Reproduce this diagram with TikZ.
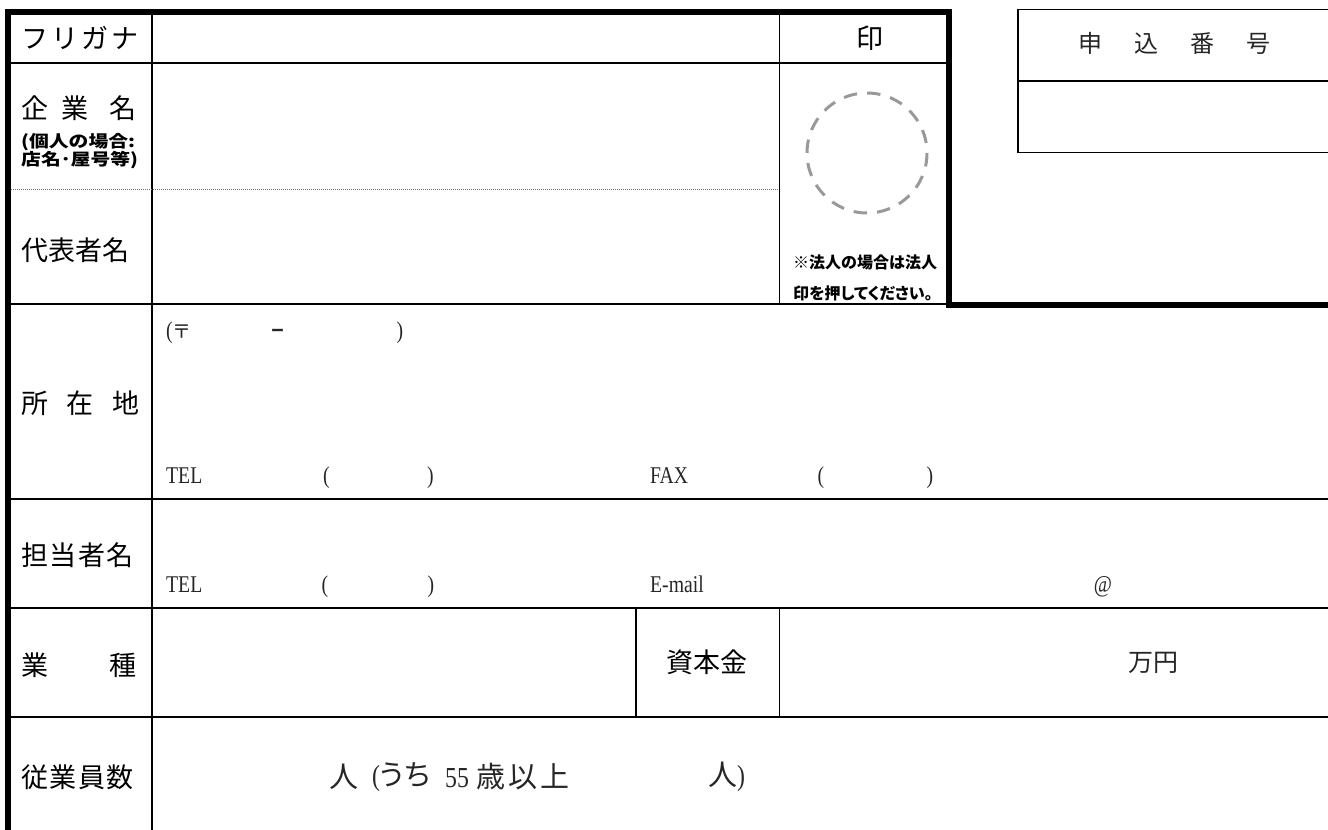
\documentclass[tikz,border=0pt]{standalone}
\usepackage{fontspec}
\newfontfamily\gothic{Noto Sans CJK JP}
\newfontfamily\gothicw{Noto Sans CJK JP}[FakeStretch=1.2]
\newfontfamily\gothicp{Noto Sans CJK JP}[RawFeature=+palt]
\newfontfamily\serifl{Liberation Serif}[FakeStretch=0.82]
\begin{document}
\begin{tikzpicture}[x=1pt,y=-1pt,
  bordline/.style={line width=6pt, line join=miter, line cap=butt},
  thinline/.style={line width=1.8pt},
  boxline/.style={line width=1.8pt, line join=miter},
  dotline/.style={line width=1pt, black!55, dash pattern=on 1pt off 1pt},
  stampc/.style={line width=3pt, black!40, dash pattern=on 13.5pt off 10.06pt},
  lbl/.style={anchor=west, inner sep=0pt, font=\gothic\fontsize{27}{30}\selectfont},
  lblc/.style={inner sep=0pt, font=\gothic\fontsize{27}{30}\selectfont},
  noteb/.style={inner sep=0pt, font=\gothic\bfseries\fontsize{16}{18}\selectfont},
  notep/.style={inner sep=0pt, anchor=west, font=\gothicp\bfseries\fontsize{16}{18}\selectfont},
  small/.style={inner sep=0pt, anchor=west, align=left, font=\gothicw\bfseries\fontsize{16.5}{18}\selectfont},
  minc/.style={inner sep=0pt, text=black!85, font=\gothic\fontsize{25}{28}\selectfont},
  minl/.style={inner sep=0pt, text=black!85, font=\gothicp\fontsize{29}{32}\selectfont},
  latn/.style={inner sep=0pt, text=black!85, font=\serifl\fontsize{24}{27}\selectfont}
]
\useasboundingbox (0,0) rectangle (1328,830);

% thick outer border
\draw[bordline] (8,840) -- (8,12) -- (949,12) -- (949,304.5) -- (1340,304.5);

% thin rules
\draw[thinline] (8,63) -- (949,63);
\draw[thinline] (8,304) -- (949,304);
\draw[thinline] (8,499) -- (1340,499);
\draw[thinline] (8,608) -- (1340,608);
\draw[thinline] (8,717) -- (1340,717);
\draw[thinline] (152,12) -- (152,840);
\draw[thinline] (779.5,12) -- (779.5,304);
\draw[thinline] (636,608) -- (636,717);
\draw[thinline] (779.5,608) -- (779.5,717);
\draw[dotline] (11,189) -- (779,189);

% application number box
\draw[boxline] (1340,9.5) -- (1018,9.5) -- (1018,152.5) -- (1340,152.5);
\draw[boxline] (1018,81) -- (1340,81);

% stamp circle
\draw[stampc] (867,153) circle (60);

% left labels
\node[lbl] (furigana) at (21,38) {フ\hspace{3pt}リ\hspace{3pt}ガ\hspace{3pt}ナ};
\node[lbl] (kigyo) at (21,108) {企\hspace{13pt}業\hspace{21pt}名};
\node[small] (kojin) at (21,151) {(個人の場合:\\店名･屋号等)};
\node[lbl] (daihyo) at (21,250) {代表者名};
\node[lbl] (shozai) at (21,403) {所\hspace{18pt}在\hspace{19pt}地};
\node[lbl] (tanto) at (21,555) {担\hspace{1.5pt}当\hspace{1.5pt}者\hspace{1.5pt}名};
\node[lbl] (gyoshu) at (21,665) {業\hspace{61pt}種};
\node[lbl] (jugyo) at (21,777) {従\hspace{1.5pt}業\hspace{1.5pt}員\hspace{1.5pt}数};

% stamp column
\node[lblc] (in) at (870,38) {印};
\node[noteb] (note1) at (865,262) {※法人の場合は法人};
\node[notep] (note2) at (793,293) {印を押してください。};

% application number
\node[minc, font=\gothic\fontsize{24}{28}\selectfont] (moshikomi) at (1174.5,43)
  {申\hspace{32pt}込\hspace{32pt}番\hspace{32pt}号};

% address row
\node[latn, anchor=west] (yubin) at (166,333) {({\gothic\fontsize{19}{21}\selectfont 〒}};
\node[latn, anchor=base, font=\gothic\bfseries\fontsize{13}{15}\selectfont] (hyphen) at (277.5,335.5) {ー};
\node[latn] (yubinr) at (400,333) {)};
\node[latn, anchor=base west] (tel1) at (166,483) {TEL};
\node[latn, anchor=base] (tel1l) at (326.5,483) {(};
\node[latn, anchor=base] (tel1r) at (430.5,483) {)};
\node[latn, anchor=base west] (fax) at (650,483) {FAX};
\node[latn, anchor=base] (faxl) at (821,483) {(};
\node[latn, anchor=base] (faxr) at (930,483) {)};

% contact row
\node[latn, anchor=base west] (tel2) at (166,592) {TEL};
\node[latn, anchor=base] (tel2l) at (325,592) {(};
\node[latn, anchor=base] (tel2r) at (431,592) {)};
\node[latn, anchor=base west] (email) at (650,592) {E-mail};
\node[latn, anchor=base] (atmark) at (1103,592) {@};

% capital
\node[lblc] (shihon) at (707,662) {資本金};
\node[minc] (manen) at (1153,663) {万円};

% employees
\node[minl] (hito1) at (344,777) {人};
\node[minl, anchor=west] (uchi) at (372,777) {{\serifl\fontsize{29}{32}\selectfont(}うち};
\node[latn, anchor=base west, font=\serifl\fontsize{29}{32}\selectfont] (gojugo) at (445,787) {55};
\node[minl, anchor=west] (ijo) at (476,777) {歳\hspace{3pt}以\hspace{3pt}上};
\node[minl, anchor=west] (hito2) at (708,777) {人{\serifl\fontsize{29}{32}\selectfont)}};
\end{tikzpicture}
\end{document}
